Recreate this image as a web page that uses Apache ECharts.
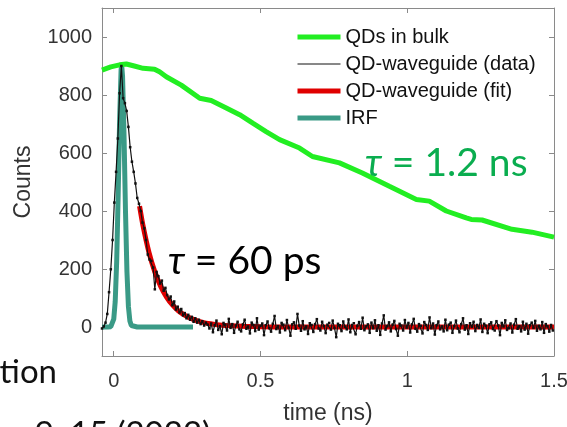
<!DOCTYPE html>
<html><head><meta charset="utf-8">
<script src="https://cdn.jsdelivr.net/npm/echarts@6/dist/echarts.min.js"></script>
<style>html,body{margin:0;padding:0;background:#fff}#c{width:567px;height:427px}</style>
</head><body><div id="c"></div>
<script>
// ---- labels ----
const seriesNames = ['QDs in bulk', 'QD-waveguide (data)', 'QD-waveguide (fit)', 'IRF'];
const xTicks = [0, 0.5, 1, 1.5];
const yTicks = [0, 200, 400, 600, 800, 1000];
const xLabel = 'time (ns)';
const yLabel = 'Counts';

// ---- QDs in bulk (green) ----
const bulkT = [-0.04, -0.01, 0.02, 0.043, 0.07, 0.1, 0.139, 0.156, 0.179, 0.23, 0.293, 0.332, 0.38, 0.429, 0.475, 0.519, 0.565, 0.633, 0.677, 0.769, 0.847, 0.939, 1.031, 1.075, 1.133, 1.201, 1.218, 1.255, 1.357, 1.425, 1.5];
const bulkCounts = [886, 897, 904, 907, 900, 892, 889, 880, 863, 834, 789, 781, 757, 732, 702, 674, 646, 617, 588, 566, 531, 485, 440, 434, 400, 376, 371, 369, 337, 327, 310];

// ---- QD-waveguide data (black), uniform time bins ----
const dataT0 = -0.04;
const dataDt = 0.006;
const wgCounts = [
  -5, 2, 15, 45, 120, 199, 300, 429, 535, 650, 806, 900, 789, 772, 745, 690, 620, 570, 535, 495,
  445, 425, 400, 360, 340, 300, 250, 233, 228, 205, 130, 190, 175, 150, 160, 125, 135, 110, 95, 105,
  75, 88, 60, 70, 50, 62, 40, 48, 30, 42, 25, 35, 18, 30, 15, 25, 10, 20, 5, 15,
  8,
  -5, 12, -18, 6, 22, -10, 3, -25, 14, 8, -12, 28, -3, 10, -20, 5, 18, -8, -15, 9,
  25, -6, 2, -22, 15, 7, -14, 30, -9, 4, 12, -28, 6, 19, -4, -16, 11, 38, -7, 3,
  -19, 14, 8, -11, 24, -2, -30, 9, 16, -6, 45, 5, -13, 20, -8, 2, -24, 13, 7, -17,
  10, 27, -5, -12, 18, 3, -21, 8, 14, -9, 22, -3, -35, 11, 6, -14, 19, 1, -8, 26,
  -18, 7, 13, -25, 4, 17, -6, 32, -11, 2, 9, -20, 15, -4, 23, -13, 6, -27, 12, 40,
  -9, 3, 16, -15, 8, 21, -7, -30, 11, 5, -12, 24, -2, 14, -19, 9, 28, -6, -16, 10,
  4, -22, 17, 7, -10, 33, -4, 12, -26, 6, 19, -8, 2, -15, 25, -11, 8, 15, -20, 3,
  22, -5, -18, 10, 30, -9, 6, -24, 13, 1, 18, -14, 7, -3, 26, -17, 11, 4, -21, 9,
  16, -7, -12, 20, 5, -28, 14, 2, 23, -10, -4, 12, -19, 8, 27, -6, 3, -15, 18, -9,
  11, -23, 6, 15, -3, 21, -13, 4, -8, 17, -20, 10, 2, -16, 7, -12
];

// ---- QD-waveguide fit (red) ----
const fitT = [0.088, 0.1, 0.12, 0.14, 0.16, 0.18, 0.2, 0.22, 0.24, 0.26, 0.28, 0.3, 0.33, 0.36, 0.4, 0.45, 0.5, 0.6, 0.8, 1.0, 1.2, 1.5];
const fitCounts = [417, 348, 257, 190, 140, 103, 76, 56, 42, 31, 23, 17, 11, 7, 4, 2, 1, 0, 0, 0, 0, 0];

// ---- IRF (teal) ----
const irfT = [-0.04, -0.02, -0.01, -0.005, 0, 0.005, 0.01, 0.015, 0.02, 0.025, 0.027, 0.03, 0.035, 0.04, 0.045, 0.05, 0.055, 0.06, 0.065, 0.08, 0.12, 0.2, 0.27];
const irfCounts = [0, 0, 1, 7, 27, 88, 225, 452, 713, 886, 903, 865, 664, 401, 190, 71, 21, 5, 1, 0, 0, 0, 0];

// ---- annotations ----
const tauBulk = '1.2 ns';
const tauWg = '60 ps';

const zip = (t, v) => t.map((x, i) => [x, v[i]]);
const wgData = wgCounts.map((v, i) => [+(dataT0 + i * dataDt).toFixed(4), v]);

const axisCol = '#8a8a8a';
const txtCol = '#333';
const ff = '"Liberation Sans", Arial, sans-serif';
const slideFont = 'Lato, "Open Sans", sans-serif';

const chart = echarts.init(document.getElementById('c'), null, {renderer: 'canvas'});
chart.setOption({
  animation: false,
  backgroundColor: '#fff',
  grid: {left: 102, right: 13, top: 8, bottom: 71, containLabel: false, outerBoundsMode: 'none'},
  legend: {
    orient: 'vertical', left: 290, top: 22,
    itemWidth: 43, itemHeight: 14, itemGap: 7,
    textStyle: {fontFamily: ff, fontSize: 20, color: '#111'},
    data: [
      {name: seriesNames[0], lineStyle: {width: 5}, itemStyle: {opacity: 0}},
      {name: seriesNames[1], lineStyle: {width: 1}, itemStyle: {opacity: 0}},
      {name: seriesNames[2], lineStyle: {width: 5}, itemStyle: {opacity: 0}},
      {name: seriesNames[3], lineStyle: {width: 5}, itemStyle: {opacity: 0}}
    ]
  },
  xAxis: [
    {type: 'value', min: -0.04, max: 1.5, position: 'bottom',
     axisLine: {show: true, onZero: false, lineStyle: {color: axisCol}},
     axisTick: {show: true, inside: true, length: 5, customValues: xTicks, lineStyle: {color: axisCol}},
     axisLabel: {customValues: xTicks, formatter: v => String(v), fontFamily: ff, fontSize: 20, color: txtCol, margin: 15},
     splitLine: {show: false},
     name: xLabel, nameLocation: 'middle', nameGap: 46,
     nameTextStyle: {fontFamily: ff, fontSize: 23, color: txtCol}},
    {type: 'value', min: -0.04, max: 1.5, position: 'top',
     axisLine: {show: true, onZero: false, lineStyle: {color: axisCol}},
     axisTick: {show: true, inside: true, length: 5, customValues: xTicks, lineStyle: {color: axisCol}},
     axisLabel: {show: false}, splitLine: {show: false}}
  ],
  yAxis: [
    {type: 'value', min: -100, max: 1100, position: 'left',
     axisLine: {show: true, onZero: false, lineStyle: {color: axisCol}},
     axisTick: {show: true, inside: true, length: 5, customValues: yTicks, lineStyle: {color: axisCol}},
     axisLabel: {customValues: yTicks, formatter: v => String(v), fontFamily: ff, fontSize: 20, color: txtCol, margin: 10},
     splitLine: {show: false},
     name: yLabel, nameLocation: 'middle', nameGap: 67,
     nameTextStyle: {fontFamily: ff, fontSize: 23, color: txtCol}},
    {type: 'value', min: -100, max: 1100, position: 'right',
     axisLine: {show: true, onZero: false, lineStyle: {color: axisCol}},
     axisTick: {show: true, inside: true, length: 5, customValues: yTicks, lineStyle: {color: axisCol}},
     axisLabel: {show: false}, splitLine: {show: false}}
  ],
  series: [
    {name: seriesNames[0], type: 'line', data: zip(bulkT, bulkCounts), symbol: 'none', z: 4,
     color: '#22ee22', lineStyle: {width: 5, color: '#22ee22'}},
    {name: seriesNames[1], type: 'line', data: wgData, symbol: 'rect', symbolSize: 2.5, showAllSymbol: true, z: 5,
     color: '#111', lineStyle: {width: 1.2, color: '#111'}, itemStyle: {color: '#111'}},
    {name: seriesNames[2], type: 'line', data: zip(fitT, fitCounts), symbol: 'none', smooth: 0.3, z: 3,
     color: '#e00000', lineStyle: {width: 5, color: '#e00000'}},
    {name: seriesNames[3], type: 'line', data: zip(irfT, irfCounts), symbol: 'none', z: 2,
     color: '#3a9a86', lineStyle: {width: 5, color: '#3a9a86'}}
  ],
  graphic: [
    {type: 'text', x: 365, y: 163, z: 10, style: {
      text: '{i|τ} = ' + tauBulk, fill: '#0aad4f', fontSize: 39, fontFamily: slideFont, verticalAlign: 'middle',
      rich: {i: {fontStyle: 'italic', fontSize: 39, fontFamily: slideFont, fill: '#0aad4f'}}}},
    {type: 'text', x: 168, y: 261, z: 10, style: {
      text: '{i|τ} = ' + tauWg, fill: '#000', fontSize: 39, fontFamily: slideFont, verticalAlign: 'middle',
      rich: {i: {fontStyle: 'italic', fontSize: 39, fontFamily: slideFont, fill: '#000'}}}},
    {type: 'text', x: 57, y: 372, z: 10, style: {
      text: 'tion', fill: '#111', fontSize: 33, fontFamily: slideFont, align: 'right', verticalAlign: 'middle'}},
    {type: 'text', x: 8, y: 434, z: 10, style: {
      text: 'n 9, 15 (2022)', fill: '#111', fontSize: 33, fontFamily: slideFont, verticalAlign: 'middle'}}
  ]
});
</script></body></html>
